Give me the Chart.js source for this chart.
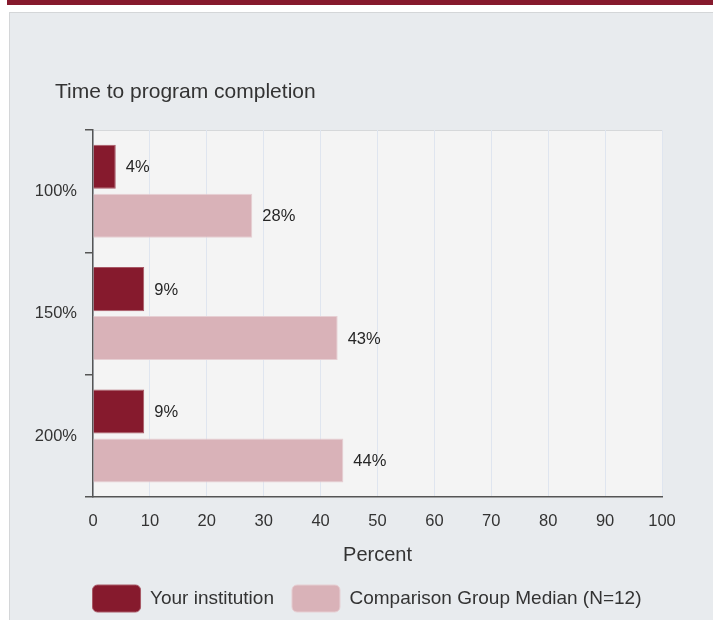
<!DOCTYPE html>
<html>
<head>
<meta charset="utf-8">
<script src="https://cdn.jsdelivr.net/npm/chart.js@4.4.0/dist/chart.umd.min.js"></script>
<style>
  body { margin: 0; background: #fff; width: 713px; height: 620px; position: relative; overflow: hidden; }
  .topbar { position: absolute; left: 7px; top: 0; width: 706px; height: 5px; background: #861a2d; }
  .panel { position: absolute; left: 9px; top: 12px; right: 0; bottom: 0; background: #e8ebee;
           border-top: 1px solid #d4d6d8; border-left: 1px solid #d4d6d8; }
  canvas { position: absolute; left: 0; top: 0; }
</style>
</head>
<body>
<div class="topbar"></div>
<div class="panel"></div>
<canvas id="chart" width="713" height="620"></canvas>
<script>
// donnees
const categories = ['100%', '150%', '200%'];
const yourInstitution = [4, 9, 9];
const comparisonMedian = [28, 43, 44];
const xTicks = [0, 10, 20, 30, 40, 50, 60, 70, 80, 90, 100];
const chartTitle = 'Time to program completion';

const dark = '#861a2d';
const light = '#d9b2b8';
const textColor = '#333333';
const fontFamily = '"Liberation Sans", Arial, sans-serif';

// fond gris clair de la zone de tracé + titre aligné à gauche
const plotBackground = {
    id: 'plotBackground',
    beforeDraw(chart) {
        const { ctx, chartArea: a } = chart;
        ctx.save();
        ctx.fillStyle = '#f4f4f4';
        ctx.fillRect(a.left, a.top, a.right - a.left, a.bottom - a.top);
        ctx.strokeStyle = '#d6d8da';
        ctx.lineWidth = 1;
        ctx.beginPath();
        ctx.moveTo(a.left, a.top + 0.5);
        ctx.lineTo(a.right, a.top + 0.5);
        ctx.stroke();

        ctx.font = '21px ' + fontFamily;
        ctx.fillStyle = textColor;
        ctx.textAlign = 'left';
        ctx.textBaseline = 'middle';
        ctx.fillText(chartTitle, 55, 92);
        ctx.restore();
    },
    afterLayout(chart) {
        // décaler la légende pour la centrer comme l'original
        chart.legend.left += 21;
        chart.legend.right += 21;
    }
};

// étiquettes "xx%" au bout des barres
const barLabels = {
    id: 'barLabels',
    afterDatasetsDraw(chart) {
        const ctx = chart.ctx;
        ctx.save();
        ctx.font = '16.5px ' + fontFamily;
        ctx.fillStyle = '#262626';
        ctx.textAlign = 'left';
        ctx.textBaseline = 'middle';
        chart.data.datasets.forEach((ds, i) => {
            chart.getDatasetMeta(i).data.forEach((bar, j) => {
                ctx.fillText(ds.data[j] + '%', bar.x + 10, bar.y + 1);
            });
        });
        ctx.restore();
    }
};

new Chart(document.getElementById('chart').getContext('2d'), {
    type: 'bar',
    data: {
        labels: categories,
        datasets: [
            {
                label: 'Your institution',
                data: yourInstitution,
                backgroundColor: dark,
                borderColor: '#a85866',
                borderWidth: 1,
                borderSkipped: 'start',
                categoryPercentage: 0.8,
                barPercentage: 0.9
            },
            {
                label: 'Comparison Group Median (N=12)',
                data: comparisonMedian,
                backgroundColor: light,
                borderColor: '#e6cfd3',
                borderWidth: 1,
                borderSkipped: 'start',
                categoryPercentage: 0.8,
                barPercentage: 0.9
            }
        ]
    },
    options: {
        indexAxis: 'y',
        responsive: false,
        animation: false,
        devicePixelRatio: 1,
        layout: { padding: { left: 30, right: 51, top: 130, bottom: -2 } },
        scales: {
            x: {
                min: 0,
                max: 100,
                afterBuildTicks: (scale) => { scale.ticks = xTicks.map(v => ({ value: v })); },
                grid: { color: '#dfe5ef', drawTicks: false },
                border: { color: '#555555', width: 1.5 },
                ticks: { color: textColor, padding: 14, font: { size: 16.5, family: fontFamily } },
                title: {
                    display: true,
                    text: 'Percent',
                    color: textColor,
                    padding: { top: -2, bottom: 0 },
                    font: { size: 20, family: fontFamily }
                }
            },
            y: {
                afterFit: (scale) => { scale.width = 63; },
                grid: { drawOnChartArea: false, drawTicks: true, tickLength: 8, offset: true, color: '#555555', lineWidth: 1.5 },
                border: { color: '#555555', width: 1.5 },
                ticks: { color: textColor, padding: 8, font: { size: 16.5, family: fontFamily } }
            }
        },
        plugins: {
            title: { display: false },
            legend: {
                position: 'bottom',
                labels: {
                    boxWidth: 48,
                    boxHeight: 27,
                    useBorderRadius: true,
                    borderRadius: 5,
                    padding: 18,
                    color: textColor,
                    font: { size: 19, family: fontFamily }
                }
            },
            tooltip: { enabled: false }
        }
    },
    plugins: [plotBackground, barLabels]
});
</script>
</body>
</html>
